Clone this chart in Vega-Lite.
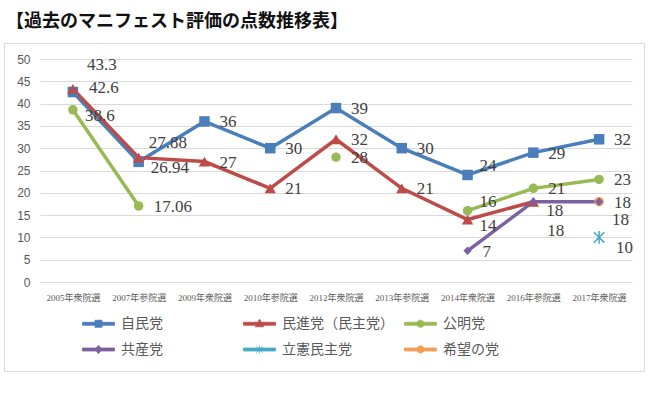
{
  "$schema": "https://vega.github.io/schema/vega-lite/v6.json",
  "width": 640,
  "height": 328,
  "autosize": {"type": "none"},
  "padding": {"left": 4, "top": 43, "right": 16, "bottom": 26},
  "background": "white",
  "title": {
    "text": "【過去のマニフェスト評価の点数推移表】",
    "anchor": "start",
    "font": "Noto Sans CJK JP",
    "fontSize": 18,
    "fontWeight": "bold",
    "color": "#111111",
    "offset": 12,
    "dx": 2
  },
  "config": {
    "view": {"stroke": "#d9d9d9", "strokeWidth": 1},
    "axis": {"labelColor": "#595959"}
  },
  "data": {
    "values": [
      {"election": "2005年衆院選", "party": "自民党", "score": 42.6},
      {"election": "2007年参院選", "party": "自民党", "score": 26.94},
      {"election": "2009年衆院選", "party": "自民党", "score": 36},
      {"election": "2010年参院選", "party": "自民党", "score": 30},
      {"election": "2012年衆院選", "party": "自民党", "score": 39},
      {"election": "2013年参院選", "party": "自民党", "score": 30},
      {"election": "2014年衆院選", "party": "自民党", "score": 24},
      {"election": "2016年参院選", "party": "自民党", "score": 29},
      {"election": "2017年衆院選", "party": "自民党", "score": 32},
      {"election": "2005年衆院選", "party": "民進党（民主党）", "score": 43.3},
      {"election": "2007年参院選", "party": "民進党（民主党）", "score": 27.88},
      {"election": "2009年衆院選", "party": "民進党（民主党）", "score": 27},
      {"election": "2010年参院選", "party": "民進党（民主党）", "score": 21},
      {"election": "2012年衆院選", "party": "民進党（民主党）", "score": 32},
      {"election": "2013年参院選", "party": "民進党（民主党）", "score": 21},
      {"election": "2014年衆院選", "party": "民進党（民主党）", "score": 14},
      {"election": "2016年参院選", "party": "民進党（民主党）", "score": 18},
      {"election": "2005年衆院選", "party": "公明党", "score": 38.6},
      {"election": "2007年参院選", "party": "公明党", "score": 17.06},
      {"election": "2009年衆院選", "party": "公明党", "score": null},
      {"election": "2010年参院選", "party": "公明党", "score": null},
      {"election": "2012年衆院選", "party": "公明党", "score": 28},
      {"election": "2013年参院選", "party": "公明党", "score": null},
      {"election": "2014年衆院選", "party": "公明党", "score": 16},
      {"election": "2016年参院選", "party": "公明党", "score": 21},
      {"election": "2017年衆院選", "party": "公明党", "score": 23},
      {"election": "2014年衆院選", "party": "共産党", "score": 7},
      {"election": "2016年参院選", "party": "共産党", "score": 18},
      {"election": "2017年衆院選", "party": "共産党", "score": 18},
      {"election": "2017年衆院選", "party": "立憲民主党", "score": 10},
      {"election": "2017年衆院選", "party": "希望の党", "score": 18}
    ]
  },
  "encoding": {
    "x": {
      "field": "election",
      "type": "nominal",
      "sort": ["2005年衆院選", "2007年参院選", "2009年衆院選", "2010年参院選", "2012年衆院選", "2013年参院選", "2014年衆院選", "2016年参院選", "2017年衆院選"],
      "scale": {"type": "point", "range": [36, 628], "padding": 0.5},
      "axis": {
        "title": null,
        "labelAngle": 0,
        "offset": -89,
        "ticks": false,
        "domain": false,
        "grid": false,
        "labelPadding": 11,
        "labelFont": "Liberation Serif, Noto Sans CJK JP",
        "labelFontSize": 9,
        "labelColor": "#595959"
      }
    },
    "y": {
      "field": "score",
      "type": "quantitative",
      "scale": {"domain": [0, 50], "range": [239, 16], "nice": false, "zero": true},
      "axis": {
        "title": null,
        "values": [0, 5, 10, 15, 20, 25, 30, 35, 40, 45, 50],
        "offset": -36,
        "ticks": false,
        "domain": false,
        "labelPadding": 10,
        "labelFont": "Liberation Sans",
        "labelFontSize": 12,
        "labelColor": "#595959",
        "gridColor": "#d9d9d9",
        "gridWidth": 1
      }
    },
    "color": {
      "field": "party",
      "type": "nominal",
      "scale": {
        "domain": ["自民党", "民進党（民主党）", "公明党", "共産党", "立憲民主党", "希望の党"],
        "range": ["#4A7EBB", "#BE4B48", "#98B954", "#7D60A0", "#46AAC5", "#F59D56"]
      },
      "legend": {
        "orient": "none",
        "legendX": 84,
        "legendY": 270,
        "direction": "horizontal",
        "columns": 3,
        "gridAlign": "all",
        "title": null,
        "symbolSize": 400,
        "symbolType": "M-1.6,-0.15H1.6V0.15H-1.6Z",
        "labelFont": "Liberation Serif, Noto Sans CJK JP",
        "labelFontSize": 14,
        "labelColor": "#595959",
        "labelOffset": 12,
        "columnPadding": 8,
        "rowPadding": 8,
        "encode": {
          "symbols": {
            "update": {
              "shape": {"signal": "datum.value === '自民党' ? 'M-1.6,-0.15H1.6V0.15H-1.6Z M-0.35,-0.35H0.35V0.35H-0.35Z' : datum.value === '民進党（民主党）' ? 'M-1.6,-0.15H1.6V0.15H-1.6Z M0,-0.45L0.42,0.3H-0.42Z' : datum.value === '共産党' ? 'M-1.6,-0.15H1.6V0.15H-1.6Z M0,-0.42L0.32,0L0,0.42L-0.32,0Z' : datum.value === '立憲民主党' ? 'M-1.6,-0.15H1.6V0.15H-1.6Z M-0.32,-0.32L0.32,0.32M-0.32,0.32L0.32,-0.32M0,-0.42V0.42' : 'M-1.6,-0.15H1.6V0.15H-1.6Z M-0.36,0a0.36,0.36 0 1,1 0.72,0a0.36,0.36 0 1,1 -0.72,0Z'"},
              "fill": {"scale": "color", "field": "value"},
              "stroke": {"scale": "color", "field": "value"},
              "strokeWidth": {"value": 0.8},
              "opacity": {"value": 1},
              "size": {"value": 400}
            }
          }
        }
      }
    }
  },
  "layer": [
    {
      "mark": {"type": "line", "strokeWidth": 3.5, "invalid": "break-paths-show-domains"}
    },
    {
      "transform": [{"filter": "datum.party === '自民党'"}],
      "mark": {"type": "point", "filled": true, "opacity": 1, "shape": "square", "size": 110}
    },
    {
      "transform": [{"filter": "datum.party === '民進党（民主党）'"}],
      "mark": {"type": "point", "filled": true, "opacity": 1, "shape": "triangle-up", "size": 130}
    },
    {
      "transform": [{"filter": "(datum.party === '公明党' || datum.party === '希望の党') && isValid(datum.score)"}],
      "mark": {"type": "point", "filled": true, "opacity": 1, "shape": "circle", "size": 90}
    },
    {
      "transform": [{"filter": "datum.party === '共産党'"}],
      "mark": {"type": "point", "filled": true, "opacity": 1, "shape": "diamond", "size": 70}
    },
    {
      "transform": [{"filter": "datum.party === '立憲民主党'"}],
      "mark": {"type": "point", "filled": false, "opacity": 1, "strokeWidth": 1.5, "size": 110, "shape": "M-1,-1L1,1M-1,1L1,-1M0,-1.2V1.2"}
    },
    {
      "transform": [{"filter": "isValid(datum.score) && indexof(['民進党（民主党）|2005年衆院選','民進党（民主党）|2007年参院選','自民党|2014年衆院選','公明党|2014年衆院選','自民党|2005年衆院選','自民党|2007年参院選','公明党|2005年衆院選','民進党（民主党）|2014年衆院選','民進党（民主党）|2016年参院選','立憲民主党|2017年衆院選','共産党|2017年衆院選','共産党|2016年参院選'], datum.party + '|' + datum.election) < 0"}],
      "mark": {"type": "text", "align": "left", "baseline": "middle", "dx": 15, "dy": 1, "font": "Liberation Serif", "fontSize": 17},
      "encoding": {"text": {"field": "score", "type": "nominal"}, "color": {"value": "#404040"}}
    },
    {
      "transform": [{"filter": "datum.party === '民進党（民主党）' && datum.election === '2005年衆院選'"}],
      "mark": {"type": "text", "align": "left", "baseline": "middle", "dx": 14, "dy": -24, "font": "Liberation Serif", "fontSize": 17},
      "encoding": {"text": {"field": "score", "type": "nominal"}, "color": {"value": "#404040"}}
    },
    {
      "transform": [{"filter": "datum.party === '民進党（民主党）' && datum.election === '2007年参院選'"}],
      "mark": {"type": "text", "align": "left", "baseline": "middle", "dx": 10, "dy": -15, "font": "Liberation Serif", "fontSize": 17},
      "encoding": {"text": {"field": "score", "type": "nominal"}, "color": {"value": "#404040"}}
    },
    {
      "transform": [{"filter": "(datum.party === '自民党' || datum.party === '公明党') && datum.election === '2014年衆院選'"}],
      "mark": {"type": "text", "align": "left", "baseline": "middle", "dx": 12, "dy": -9, "font": "Liberation Serif", "fontSize": 17},
      "encoding": {"text": {"field": "score", "type": "nominal"}, "color": {"value": "#404040"}}
    },
    {
      "transform": [{"filter": "datum.party === '自民党' && datum.election === '2005年衆院選'"}],
      "mark": {"type": "text", "align": "left", "baseline": "middle", "dx": 16, "dy": -4, "font": "Liberation Serif", "fontSize": 17},
      "encoding": {"text": {"field": "score", "type": "nominal"}, "color": {"value": "#404040"}}
    },
    {
      "transform": [{"filter": "indexof(['自民党|2007年参院選','公明党|2005年衆院選','民進党（民主党）|2014年衆院選'], datum.party + '|' + datum.election) >= 0"}],
      "mark": {"type": "text", "align": "left", "baseline": "middle", "dx": 12, "dy": 6, "font": "Liberation Serif", "fontSize": 17},
      "encoding": {"text": {"field": "score", "type": "nominal"}, "color": {"value": "#404040"}}
    },
    {
      "transform": [{"filter": "datum.party === '民進党（民主党）' && datum.election === '2016年参院選'"}],
      "mark": {"type": "text", "align": "left", "baseline": "middle", "dx": 13, "dy": 9, "font": "Liberation Serif", "fontSize": 17},
      "encoding": {"text": {"field": "score", "type": "nominal"}, "color": {"value": "#404040"}}
    },
    {
      "transform": [{"filter": "datum.party === '立憲民主党'"}],
      "mark": {"type": "text", "align": "left", "baseline": "middle", "dx": 17, "dy": 11, "font": "Liberation Serif", "fontSize": 17},
      "encoding": {"text": {"field": "score", "type": "nominal"}, "color": {"value": "#404040"}}
    },
    {
      "transform": [{"filter": "datum.party === '共産党' && datum.election === '2017年衆院選'"}],
      "mark": {"type": "text", "align": "left", "baseline": "middle", "dx": 13, "dy": 18, "font": "Liberation Serif", "fontSize": 17},
      "encoding": {"text": {"field": "score", "type": "nominal"}, "color": {"value": "#404040"}}
    },
    {
      "transform": [{"filter": "datum.party === '共産党' && datum.election === '2016年参院選'"}],
      "mark": {"type": "text", "align": "left", "baseline": "middle", "dx": 14, "dy": 29, "font": "Liberation Serif", "fontSize": 17},
      "encoding": {"text": {"field": "score", "type": "nominal"}, "color": {"value": "#404040"}}
    }
  ]
}
